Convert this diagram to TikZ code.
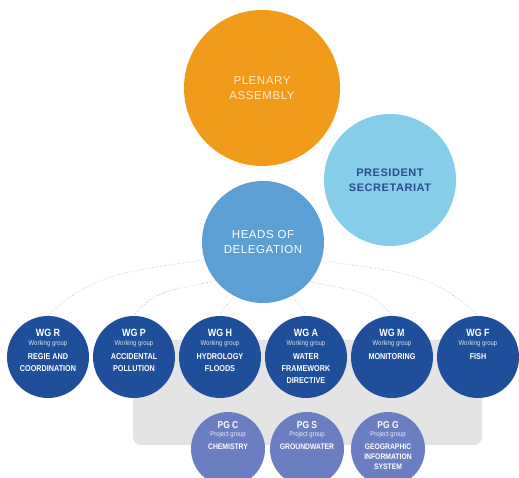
\documentclass[tikz,border=0pt]{standalone}
\usepackage{fontspec}
\setmainfont{Liberation Sans}
\newfontfamily\spacedfont[LetterSpace=5]{Liberation Sans}
\newfontfamily\condfont[FakeStretch=0.85]{Liberation Sans}
\usepackage{tikz}
\usetikzlibrary{backgrounds}
\definecolor{PlenaryOrange}{RGB}{242,154,26}
\definecolor{PlenaryText}{RGB}{253,235,206}
\definecolor{PresidentBlue}{RGB}{134,205,234}
\definecolor{PresidentText}{RGB}{43,77,141}
\definecolor{HeadsBlue}{RGB}{91,159,213}
\definecolor{WGBlue}{RGB}{31,78,155}
\definecolor{PGBlue}{RGB}{106,126,193}
\definecolor{PanelGray}{RGB}{228,228,228}
\definecolor{LinkGray}{RGB}{165,165,165}

\tikzset{
  bigcircle/.style={circle, inner sep=0pt, minimum size=#1, align=center,
    font=\spacedfont\fontsize{11.5}{15.5}\selectfont},
  wgcircle/.style={circle, fill=WGBlue, inner sep=0pt, minimum size=82pt},
  pgcircle/.style={circle, fill=PGBlue, inner sep=0pt, minimum size=74pt},
  codetext/.style={text=white, inner sep=0pt, font=\condfont\bfseries\fontsize{10.5}{11}\selectfont},
  roletext/.style={text=white!85!WGBlue, inner sep=0pt, font=\condfont\fontsize{7}{8}\selectfont},
  titletext/.style={text=white, inner sep=0pt, anchor=north, align=center,
    font=\condfont\bfseries\fontsize{8.5}{12}\selectfont},
  link/.style={dotted, LinkGray, line width=0.6pt}
}

\begin{document}
\begin{tikzpicture}[x=1pt, y=1pt]
    \useasboundingbox (0,0) rectangle (519,478);

    % Top level
    \node[bigcircle=156pt, fill=PlenaryOrange, text=PlenaryText] (plenary) at (262,390) {PLENARY\\ASSEMBLY};
    \node[bigcircle=132pt, fill=PresidentBlue, text=PresidentText, font=\spacedfont\bfseries\fontsize{11}{15}\selectfont] (president) at (390,298) {PRESIDENT\\SECRETARIAT};
    \node[bigcircle=122pt, fill=HeadsBlue, text=white] (heads) at (263,236) {HEADS OF\\DELEGATION};

    % Working groups
    \foreach \x/\code/\title in {48/R/{REGIE AND\\COORDINATION}, 134/P/{ACCIDENTAL\\POLLUTION},
        220/H/{HYDROLOGY\\FLOODS}, 306/A/{WATER\\FRAMEWORK\\DIRECTIVE}, 392/M/MONITORING, 478/F/FISH} {
        \node[wgcircle] (wg\code) at (\x,121) {};
        \node[codetext] (wg\code-code) at (\x,145) {WG \code};
        \node[roletext] (wg\code-role) at (\x,134) {Working group};
        \node[titletext] (wg\code-title) at (\x,124.5) {\title};
    }

    % Project groups
    \foreach \x/\code/\title in {228/C/CHEMISTRY, 307/S/GROUNDWATER, 388/G/{GEOGRAPHIC\\INFORMATION\\SYSTEM}} {
        \node[pgcircle] (pg\code) at (\x,29) {};
        \node[codetext, font=\condfont\bfseries\fontsize{10}{11}\selectfont] (pg\code-code) at (\x,52.5) {PG \code};
        \node[roletext, text=white!85!PGBlue] (pg\code-role) at (\x,43) {Project group};
        \node[titletext, font=\condfont\bfseries\fontsize{8}{9.8}\selectfont] (pg\code-title) at (\x,34) {\title};
    }

    % Panel and links
    \begin{scope}[on background layer]
        \fill[PanelGray, rounded corners=8pt] (133,33) rectangle (482,138);
        \draw[link] (heads.197) to[out=189, in=45] (wgR.north);
        \draw[link] (heads.219) to[out=195, in=55] (wgP.north);
        \draw[link] (heads.241) to[out=250, in=75] (wgH.north);
        \draw[link] (heads.-61) to[out=-60, in=105] (wgA.north);
        \draw[link] (heads.-40) to[out=-15, in=125] (wgM.north);
        \draw[link] (heads.-18) to[out=-8, in=135] (wgF.north);
    \end{scope}
\end{tikzpicture}
\end{document}
